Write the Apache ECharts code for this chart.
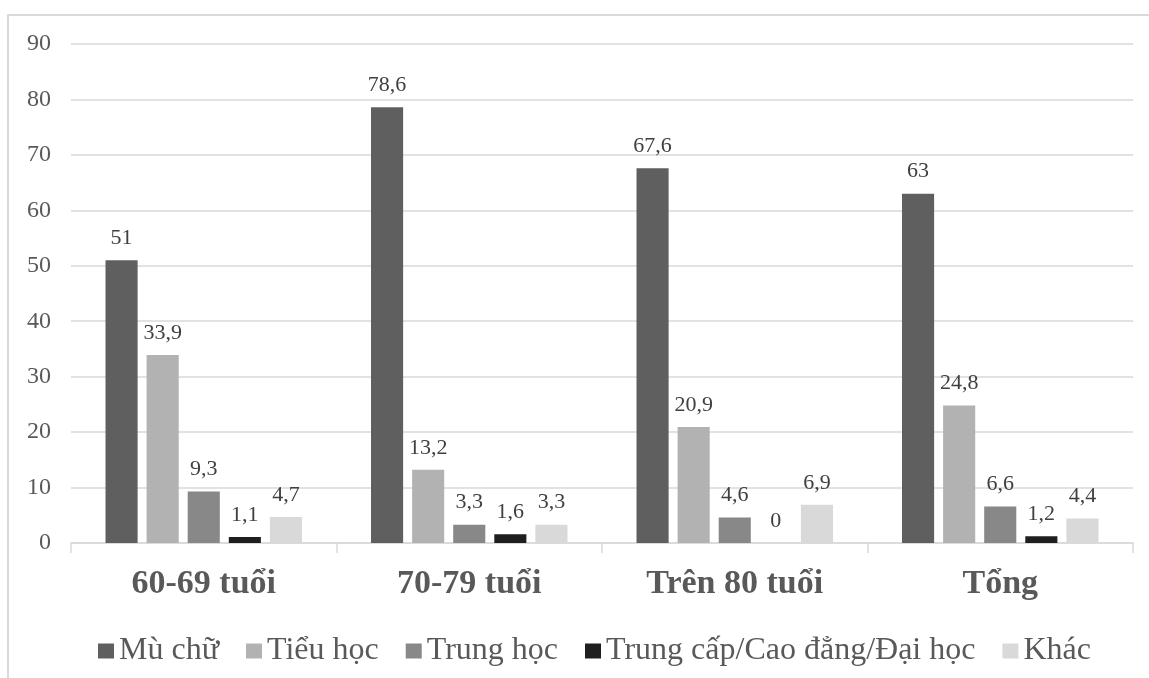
<!DOCTYPE html>
<html>
<head>
<meta charset="utf-8">
<script src="https://cdn.jsdelivr.net/npm/echarts@6/dist/echarts.min.js"></script>
<style>
  html, body { margin: 0; padding: 0; background: #fff; }
  #chart { width: 1149px; height: 678px; }
</style>
</head>
<body>
<div id="chart"></div>
<script>
// Age groups along the x axis
const categories = ['60-69 tuổi', '70-79 tuổi', 'Trên 80 tuổi', 'Tổng'];

// Education level shares (%) per age group
const muChu     = [51, 78.6, 67.6, 63];
const tieuHoc   = [33.9, 13.2, 20.9, 24.8];
const trungHoc  = [9.3, 3.3, 4.6, 6.6];
const trungCap  = [1.1, 1.6, 0, 1.2];
const khac      = [4.7, 3.3, 6.9, 4.4];

const seriesNames = ['Mù chữ', 'Tiểu học', 'Trung học', 'Trung cấp/Cao đẳng/Đại học', 'Khác'];
const seriesData = [muChu, tieuHoc, trungHoc, trungCap, khac];
const seriesColors = ['#5f5f5f', '#b2b2b2', '#888888', '#1f1f1f', '#d9d9d9'];

const yTicks = { min: 0, max: 90, interval: 10 };

const FONT = '"Liberation Serif", "Times New Roman", serif';

const chart = echarts.init(document.getElementById('chart'));

chart.setOption({
  animation: false,
  textStyle: { fontFamily: FONT },
  graphic: [{
    type: 'rect',
    shape: { x: 8, y: 15, width: 1200, height: 700 },
    style: { fill: 'none', stroke: '#d9d9d9', lineWidth: 2 },
    silent: true,
    z: -1
  }],
  grid: { left: 71, right: 16, top: 44, bottom: 135 },
  legend: {
    data: seriesNames,
    left: 93,
    top: 630,
    width: 1050,
    itemWidth: 16,
    itemHeight: 15,
    itemGap: 27,
    icon: 'rect',
    textStyle: { fontFamily: FONT, fontSize: 32, color: '#595959', padding: [0, 0, 0, 0] }
  },
  xAxis: {
    type: 'category',
    data: categories,
    axisLine: { lineStyle: { color: '#d9d9d9', width: 1.5 } },
    axisTick: { show: true, length: 10, lineStyle: { color: '#d9d9d9', width: 1.5 } },
    axisLabel: { fontFamily: FONT, fontSize: 34, fontWeight: 'bold', color: '#595959', margin: 24 }
  },
  yAxis: {
    type: 'value',
    min: yTicks.min,
    max: yTicks.max,
    interval: yTicks.interval,
    axisLine: { show: false },
    axisTick: { show: false },
    splitLine: { lineStyle: { color: '#d9d9d9', width: 1.5 } },
    axisLabel: { fontFamily: FONT, fontSize: 24, color: '#595959', margin: 20 }
  },
  series: seriesData.map((d, i) => ({
    name: seriesNames[i],
    type: 'bar',
    data: d,
    barGap: '28%',
    barCategoryGap: '26%',
    itemStyle: { color: seriesColors[i] },
    label: {
      show: true,
      position: 'top',
      distance: 11,
      fontFamily: FONT,
      fontSize: 22,
      color: '#404040',
      formatter: p => String(p.value).replace('.', ',')
    }
  }))
});
</script>
</body>
</html>
